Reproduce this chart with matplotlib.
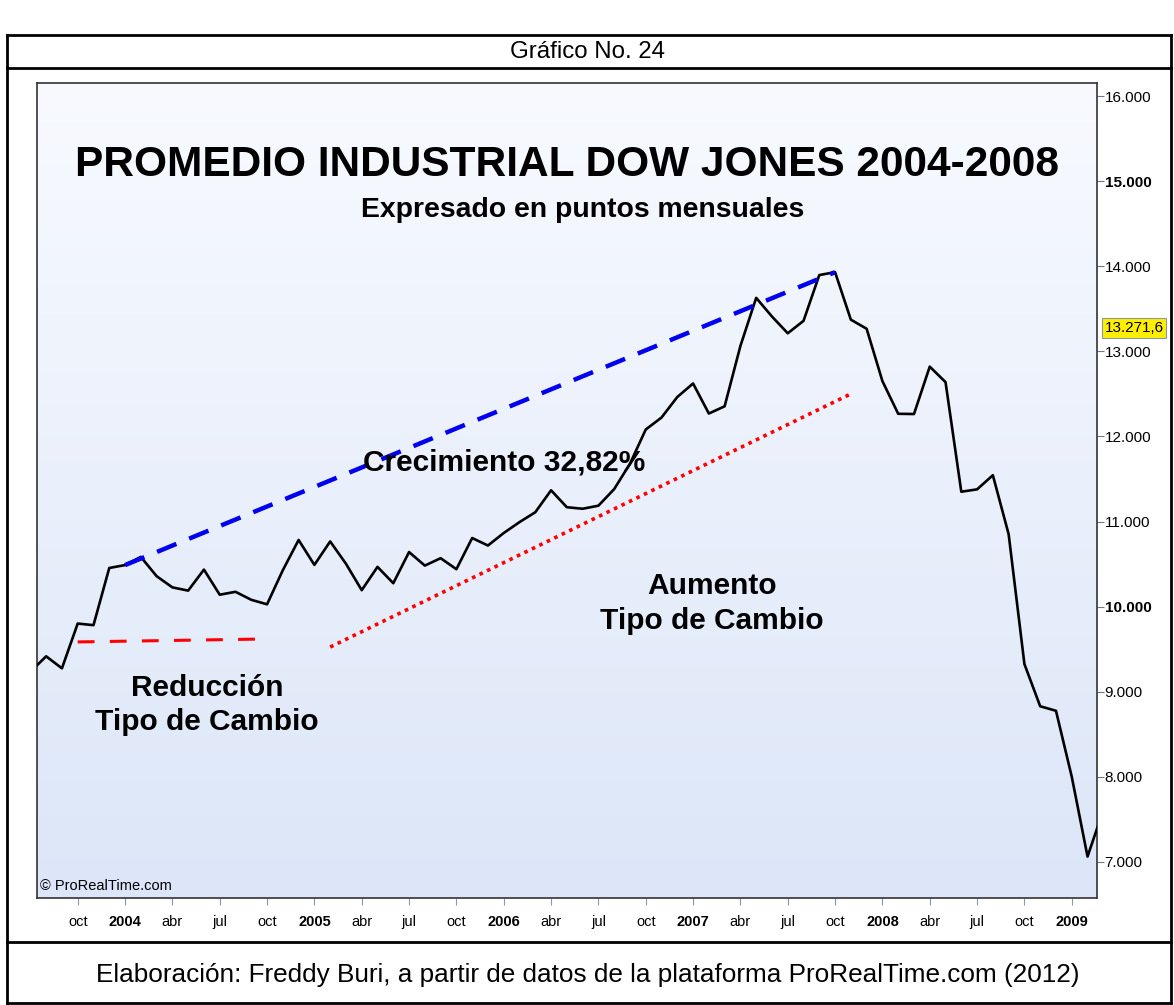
import numpy as np
import matplotlib
matplotlib.use('Agg')
import matplotlib.pyplot as plt
from matplotlib.lines import Line2D
from matplotlib.colors import LinearSegmentedColormap

plt.rcParams['font.family'] = ['Liberation Sans', 'DejaVu Sans']

# monthly close, Dow Jones Industrial, jul 2003 .. mar 2009
start_year, start_month = 2003, 7
closes = [9234, 9416, 9275, 9801, 9782, 10454,
          10488, 10584, 10358, 10226, 10188, 10435, 10140, 10174, 10080, 10027, 10428, 10783,
          10490, 10766, 10504, 10193, 10467, 10275, 10641, 10482, 10569, 10440, 10806, 10718,
          10865, 10993, 11109, 11367, 11168, 11150, 11186, 11381, 11679, 12081, 12222, 12463,
          12622, 12269, 12354, 13063, 13628, 13409, 13212, 13358, 13896, 13930, 13372, 13265,
          12650, 12266, 12263, 12820, 12638, 11350, 11378, 11544, 10851, 9325, 8829, 8776,
          8001, 7063, 7609]

# trend lines drawn on the chart: (month index, value)
growth_line = [(6, 10488), (51, 13930)]      # jan 2004 -> oct 2007
cut_line = [(3, 9585), (15, 9620)]           # oct 2003 -> oct 2004
rise_line = [(19, 9525), (52, 12500)]        # feb 2005 -> nov 2007
last_price = 13271.6

y_ticks = [7000, 8000, 9000, 10000, 11000, 12000, 13000, 14000, 15000, 16000]
bold_y = [10000, 15000]
month_names = {1: None, 4: 'abr', 7: 'jul', 10: 'oct'}

W, H = 1174, 1005
fig = plt.figure(figsize=(W / 100, H / 100), dpi=100)
fig.patch.set_facecolor('white')

def fx(px):
    return px / W

def fy(py):
    return 1 - py / H

# outer frame of the figure box
L, R, T, B = 7, 1171, 35, 1003
for (x0, y0, x1, y1) in [(L, T, R, T), (L, B, R, B), (L, T, L, B), (R, T, R, B),
                         (L, 68, R, 68), (L, 942, R, 942)]:
    fig.add_artist(Line2D([fx(x0), fx(x1)], [fy(y0), fy(y1)], color='black', lw=2))

fig.text(fx(587), fy(52), 'Gráfico No. 24', ha='center', va='center', fontsize=17.3)
fig.text(fx(588), fy(975),
         'Elaboración: Freddy Buri, a partir de datos de la plataforma ProRealTime.com (2012)',
         ha='center', va='center', fontsize=18.8)

ax = fig.add_axes([fx(37), fy(898), fx(1097 - 37), (898 - 83) / H])

x = np.arange(len(closes))
x_lo, x_hi = 0.42, 67.6

# background gradient
cmap = LinearSegmentedColormap.from_list('bg', ['#dce6f8', '#f8faff'])
grad = np.linspace(0, 1, 256).reshape(-1, 1)
ax.imshow(grad, extent=[0, 1, 0, 1], transform=ax.transAxes, aspect='auto',
          cmap=cmap, origin='lower', zorder=0)

ax.plot(x, closes, color='black', lw=1.9, zorder=3)

gx, gy = zip(*growth_line)
ax.plot(gx, gy, color='#0000ee', lw=3.2, dashes=(4.7, 3.1), zorder=4)
cx, cy = zip(*cut_line)
ax.plot(cx, cy, color='#ff0000', lw=2.2, dashes=(5.5, 5), zorder=4)
rx, ry = zip(*rise_line)
ax.plot(rx, ry, color='#ff0000', lw=2.6, dashes=(1, 1.3), zorder=4)

# texts
ax.text(0.5, 0.9, 'PROMEDIO INDUSTRIAL DOW JONES 2004-2008', transform=ax.transAxes,
        ha='center', va='center', fontsize=30.5, fontweight='bold')
ax.text(0.515, 0.844, 'Expresado en puntos mensuales', transform=ax.transAxes,
        ha='center', va='center', fontsize=20.4, fontweight='bold')
ax.text(30.0, 11699, 'Crecimiento 32,82%', ha='center', va='center',
        fontsize=21.5, fontweight='bold', zorder=5)
ax.text(43.2, 10040, 'Aumento\nTipo de Cambio', ha='center', va='center',
        fontsize=21.5, fontweight='bold', linespacing=1.3, zorder=5)
ax.text(11.2, 8844, 'Reducción\nTipo de Cambio', ha='center', va='center',
        fontsize=21.5, fontweight='bold', linespacing=1.3, zorder=5)
ax.text(0.003, 0.006, '© ProRealTime.com', transform=ax.transAxes,
        ha='left', va='bottom', fontsize=10.5)

# y axis on the right
ax.yaxis.tick_right()
ax.set_yticks(y_ticks)
ax.set_yticklabels([f'{v:,.0f}'.replace(',', '.') for v in y_ticks])
for lab, v in zip(ax.get_yticklabels(), y_ticks):
    if v in bold_y:
        lab.set_fontweight('bold')
        lab.set_fontsize(12.5)
ax.tick_params(axis='y', length=5, color='#6a7a8a', labelsize=11, pad=0.5)

# x axis, quarterly labels (only those inside the visible range)
xt, xl, xb = [], [], []
for i in range(len(closes)):
    m = (start_month - 1 + i) % 12 + 1
    yr = start_year + (start_month - 1 + i) // 12
    if m in month_names and x_lo <= i <= x_hi:
        xt.append(i)
        xl.append(str(yr) if m == 1 else month_names[m])
        xb.append(m == 1)
ax.set_xticks(xt)
ax.set_xticklabels(xl)
for lab, b in zip(ax.get_xticklabels(), xb):
    if b:
        lab.set_fontweight('bold')
        lab.set_fontsize(13)
ax.tick_params(axis='x', length=5, color='#8a9aaa', labelsize=10.5, pad=7)

ax.set_xlim(x_lo, x_hi)
ax.set_ylim(6576, 16153)

for s in ax.spines.values():
    s.set_color('#333333')
    s.set_linewidth(1.2)

# current price tag
ax.text(1.007, last_price, '13.271,6', transform=ax.get_yaxis_transform(),
        ha='left', va='center', fontsize=11, zorder=6, clip_on=False,
        bbox=dict(boxstyle='square,pad=0.18', facecolor='#ffee00', edgecolor='#8899aa', lw=0.8))

fig.savefig('out.png', dpi=100)
